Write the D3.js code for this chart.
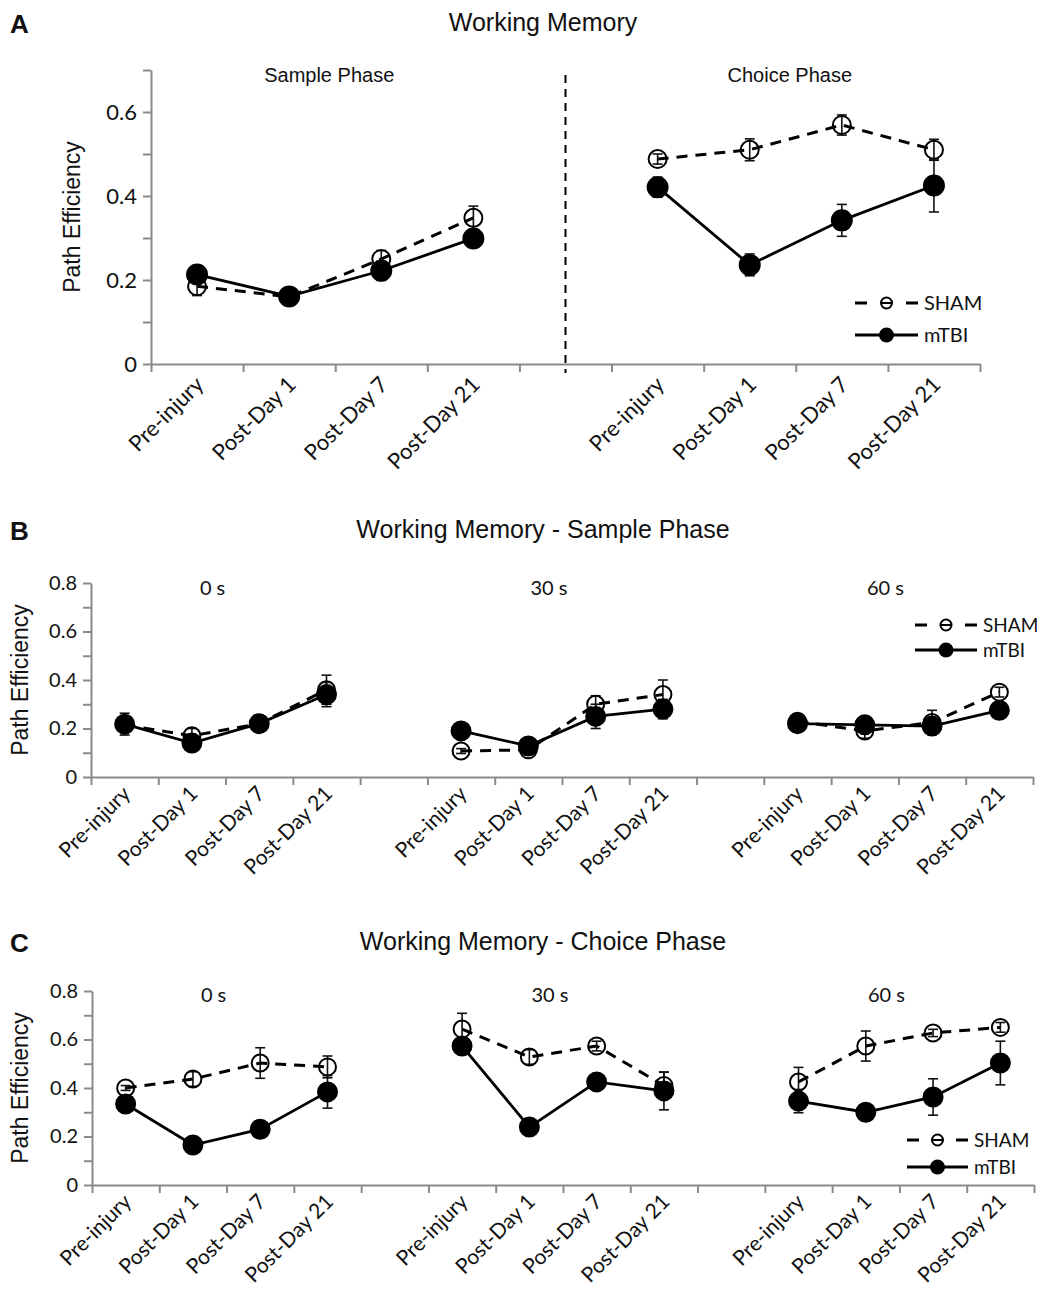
<!DOCTYPE html>
<html>
<head>
<meta charset="utf-8">
<script src="https://cdn.jsdelivr.net/npm/d3@7"></script>
<style>
  body { margin: 0; background: #fff; }
  svg { display: block; }
</style>
</head>
<body>
<svg id="chart" width="1037" height="1306"></svg>
<script>
// categories
const timepoints = ["Pre-injury", "Post-Day 1", "Post-Day 7", "Post-Day 21"];
const phases = ["Sample Phase", "Choice Phase"];
const delays = ["0 s", "30 s", "60 s"];
const seriesNames = ["SHAM", "mTBI"];

// A - working memory, one row per phase
const shamA = [[0.185, 0.16, 0.25, 0.348], [0.488, 0.51, 0.569, 0.51]];
const shamErrA = [[0.022, 0.01, 0.02, 0.028], [0.012, 0.026, 0.024, 0.025]];
const tbiA = [[0.213, 0.161, 0.222, 0.299], [0.421, 0.236, 0.342, 0.425]];
const tbiErrA = [[0.021, 0.01, 0.023, 0.01], [0.024, 0.026, 0.038, 0.063]];

// B - sample phase, one row per delay
const shamB = [[0.215, 0.17, 0.22, 0.36], [0.107, 0.112, 0.30, 0.34], [0.23, 0.19, 0.225, 0.35]];
const shamErrB = [[0.03, 0.03, 0.015, 0.06], [0.01, 0.01, 0.035, 0.06], [0.03, 0.03, 0.05, 0.02]];
const tbiB = [[0.218, 0.14, 0.22, 0.34], [0.19, 0.128, 0.25, 0.28], [0.22, 0.215, 0.21, 0.275]];
const tbiErrB = [[0.045, 0.02, 0.015, 0.05], [0.01, 0.01, 0.05, 0.04], [0.03, 0.03, 0.03, 0.025]];

// C - choice phase, one row per delay
const shamC = [[0.40, 0.437, 0.503, 0.487], [0.643, 0.528, 0.573, 0.41], [0.425, 0.573, 0.627, 0.65]];
const shamErrC = [[0.01, 0.03, 0.063, 0.045], [0.065, 0.03, 0.02, 0.055], [0.06, 0.062, 0.015, 0.02]];
const tbiC = [[0.334, 0.165, 0.23, 0.384], [0.573, 0.239, 0.425, 0.388], [0.346, 0.30, 0.363, 0.503]];
const tbiErrC = [[0.01, 0.02, 0.02, 0.067], [0.01, 0.03, 0.03, 0.078], [0.048, 0.03, 0.075, 0.09]];

const svg = d3.select("#chart");
const AXIS = "#8a8a8a";
const INK = "#111";
const SANS = "'Liberation Sans', Arial, sans-serif";
const CAL = "Lato, 'Open Sans', sans-serif";

function drawPanel(opt) {
  const g = svg.append("g");
  const nSlots = opt.groups.length * 5 - 1;
  const xs = d3.scaleLinear().domain([0, nSlots]).range(opt.xRange);
  const y = d3.scaleLinear().domain([0, opt.yMax]).range(opt.yRange);
  const px = (grp, i) => xs(grp * 5 + i + 0.5);

  // y axis, ticks every 0.1, labels every 0.2
  const yAxis = g.append("g")
    .attr("transform", `translate(${opt.xRange[0]},0)`)
    .call(d3.axisLeft(y)
      .tickValues(d3.range(0, opt.yMax + 0.001, 0.1))
      .tickSize(8).tickSizeOuter(0)
      .tickFormat(d => Math.round(d * 10) % 2 === 0 ? (d === 0 ? "0" : d.toFixed(1)) : ""));
  yAxis.select(".domain").attr("stroke", AXIS).attr("stroke-width", 2);
  yAxis.selectAll(".tick line").attr("stroke", AXIS).attr("stroke-width", 2);
  yAxis.selectAll(".tick text").attr("fill", INK)
    .style("font-family", CAL).style("font-size", opt.tickFont + "px").attr("x", -14);

  // x axis, ticks at slot boundaries
  const xAxis = g.append("g")
    .attr("transform", `translate(0,${opt.yRange[0]})`)
    .call(d3.axisBottom(xs).tickValues(d3.range(0, nSlots + 1)).tickSize(8).tickSizeOuter(0).tickFormat(""));
  xAxis.select(".domain").attr("stroke", AXIS).attr("stroke-width", 2);
  xAxis.selectAll(".tick line").attr("stroke", AXIS).attr("stroke-width", 2);

  // rotated category labels
  opt.groups.forEach((grp, gi) => {
    g.selectAll(null).data(timepoints).enter().append("text")
      .attr("transform", (d, i) => `translate(${px(gi, i) + opt.labelDx},${opt.yRange[0] + opt.labelDy}) rotate(-45)`)
      .attr("text-anchor", "end")
      .attr("fill", INK)
      .style("font-family", CAL).style("font-size", opt.labelFont + "px")
      .text(d => d);

    g.append("text")
      .attr("x", px(gi, 1.5) + opt.subDx).attr("y", opt.subY)
      .attr("text-anchor", "middle").attr("fill", INK)
      .style("font-family", opt.subFamily).style("font-size", opt.subFont + "px")
      .text(grp);
  });

  // y label
  g.append("text")
    .attr("transform", `translate(${opt.yLabelX},${(opt.yRange[0] + opt.yRange[1]) / 2}) rotate(-90)`)
    .attr("text-anchor", "middle").attr("fill", INK)
    .style("font-family", SANS).style("font-size", "23px")
    .text("Path Efficiency");

  // title + panel letter
  g.append("text").attr("x", 543).attr("y", opt.titleY)
    .attr("text-anchor", "middle").attr("fill", INK)
    .style("font-family", SANS).style("font-size", "25px").text(opt.title);
  g.append("text").attr("x", 10).attr("y", opt.titleY + 2)
    .attr("fill", "#111").style("font-family", SANS).style("font-weight", "bold")
    .style("font-size", "26px").text(opt.letter);

  const line = d3.line().x(d => d.x).y(d => y(d.v));
  const series = [
    { vals: opt.sham, errs: opt.shamErr, dash: "11,8", fill: "none", width: 3 },
    { vals: opt.tbi, errs: opt.tbiErr, dash: null, fill: "#000", width: 2.8 }
  ];
  series.forEach(s => {
    opt.groups.forEach((grp, gi) => {
      const pts = s.vals[gi].map((v, i) => ({ x: px(gi, i), v: v, e: s.errs[gi][i] }));
      g.append("path").datum(pts)
        .attr("d", line).attr("fill", "none").attr("stroke", "#000")
        .attr("stroke-width", s.width).attr("stroke-dasharray", s.dash);
      const eb = g.selectAll(null).data(pts).enter().append("g").attr("stroke", "#111").attr("stroke-width", 1.6);
      eb.append("line").attr("x1", d => d.x).attr("x2", d => d.x)
        .attr("y1", d => y(d.v - d.e)).attr("y2", d => y(d.v + d.e));
      eb.append("line").attr("x1", d => d.x - 5).attr("x2", d => d.x + 5)
        .attr("y1", d => y(d.v - d.e)).attr("y2", d => y(d.v - d.e));
      eb.append("line").attr("x1", d => d.x - 5).attr("x2", d => d.x + 5)
        .attr("y1", d => y(d.v + d.e)).attr("y2", d => y(d.v + d.e));
      g.selectAll(null).data(pts).enter().append("circle")
        .attr("cx", d => d.x).attr("cy", d => y(d.v))
        .attr("r", s.fill === "none" ? opt.markR - 1 : opt.markR)
        .attr("fill", s.fill).attr("stroke", "#000").attr("stroke-width", 2);
    });
  });

  // legend: "– o –" for SHAM, solid line with dot for mTBI
  const lg = opt.legend;
  const mid = (lg.x0 + lg.x1) / 2;
  const ly0 = lg.y, ly1 = lg.y + lg.gap;
  g.append("line").attr("x1", lg.x0).attr("x2", lg.x0 + 12).attr("y1", ly0).attr("y2", ly0)
    .attr("stroke", "#000").attr("stroke-width", 3);
  g.append("line").attr("x1", lg.x1 - 12).attr("x2", lg.x1).attr("y1", ly0).attr("y2", ly0)
    .attr("stroke", "#000").attr("stroke-width", 3);
  g.append("circle").attr("cx", mid).attr("cy", ly0).attr("r", 5.5)
    .attr("fill", "#fff").attr("stroke", "#000").attr("stroke-width", 2);
  g.append("line").attr("x1", mid - 5).attr("x2", mid + 5).attr("y1", ly0).attr("y2", ly0)
    .attr("stroke", "#000").attr("stroke-width", 2);
  g.append("line").attr("x1", lg.x0).attr("x2", lg.x1).attr("y1", ly1).attr("y2", ly1)
    .attr("stroke", "#000").attr("stroke-width", 2.8);
  g.append("circle").attr("cx", mid).attr("cy", ly1).attr("r", 7.5).attr("fill", "#000");
  [ly0, ly1].forEach((ly, i) => {
    g.append("text").attr("x", lg.x1 + 6).attr("y", ly + 7)
      .attr("fill", INK).style("font-family", CAL).style("font-size", lg.font + "px").text(seriesNames[i]);
  });
  return { xs, y, px };
}

// Panel A
const a = drawPanel({
  letter: "A", title: "Working Memory", titleY: 31,
  groups: phases, sham: shamA, shamErr: shamErrA, tbi: tbiA, tbiErr: tbiErrA,
  xRange: [151, 980], yRange: [364, 70], yMax: 0.7,
  tickFont: 22, labelFont: 22, labelDx: 8, labelDy: 22,
  subY: 82, subDx: -6, subFont: 20, subFamily: SANS,
  yLabelX: 80, markR: 10,
  legend: { x0: 855, x1: 918, y: 303, gap: 32, font: 20 }
});
// dashed divider between the phases
svg.append("line")
  .attr("x1", a.xs(4.5)).attr("x2", a.xs(4.5))
  .attr("y1", 75).attr("y2", 373)
  .attr("stroke", "#000").attr("stroke-width", 2).attr("stroke-dasharray", "8,6");

// Panel B
drawPanel({
  letter: "B", title: "Working Memory - Sample Phase", titleY: 538,
  groups: delays, sham: shamB, shamErr: shamErrB, tbi: tbiB, tbiErr: tbiErrB,
  xRange: [91, 1033], yRange: [777, 583], yMax: 0.8,
  tickFont: 20, labelFont: 21, labelDx: 7, labelDy: 18,
  subY: 595, subDx: -13, subFont: 20, subFamily: CAL,
  yLabelX: 28, markR: 9.5,
  legend: { x0: 915, x1: 977, y: 625, gap: 25, font: 19 }
});

// Panel C
drawPanel({
  letter: "C", title: "Working Memory - Choice Phase", titleY: 950,
  groups: delays, sham: shamC, shamErr: shamErrC, tbi: tbiC, tbiErr: tbiErrC,
  xRange: [92, 1034], yRange: [1185, 991], yMax: 0.8,
  tickFont: 20, labelFont: 21, labelDx: 7, labelDy: 18,
  subY: 1002, subDx: -13, subFont: 20, subFamily: CAL,
  yLabelX: 28, markR: 9.5,
  legend: { x0: 907, x1: 968, y: 1140, gap: 27, font: 19 }
});
</script>
</body>
</html>
